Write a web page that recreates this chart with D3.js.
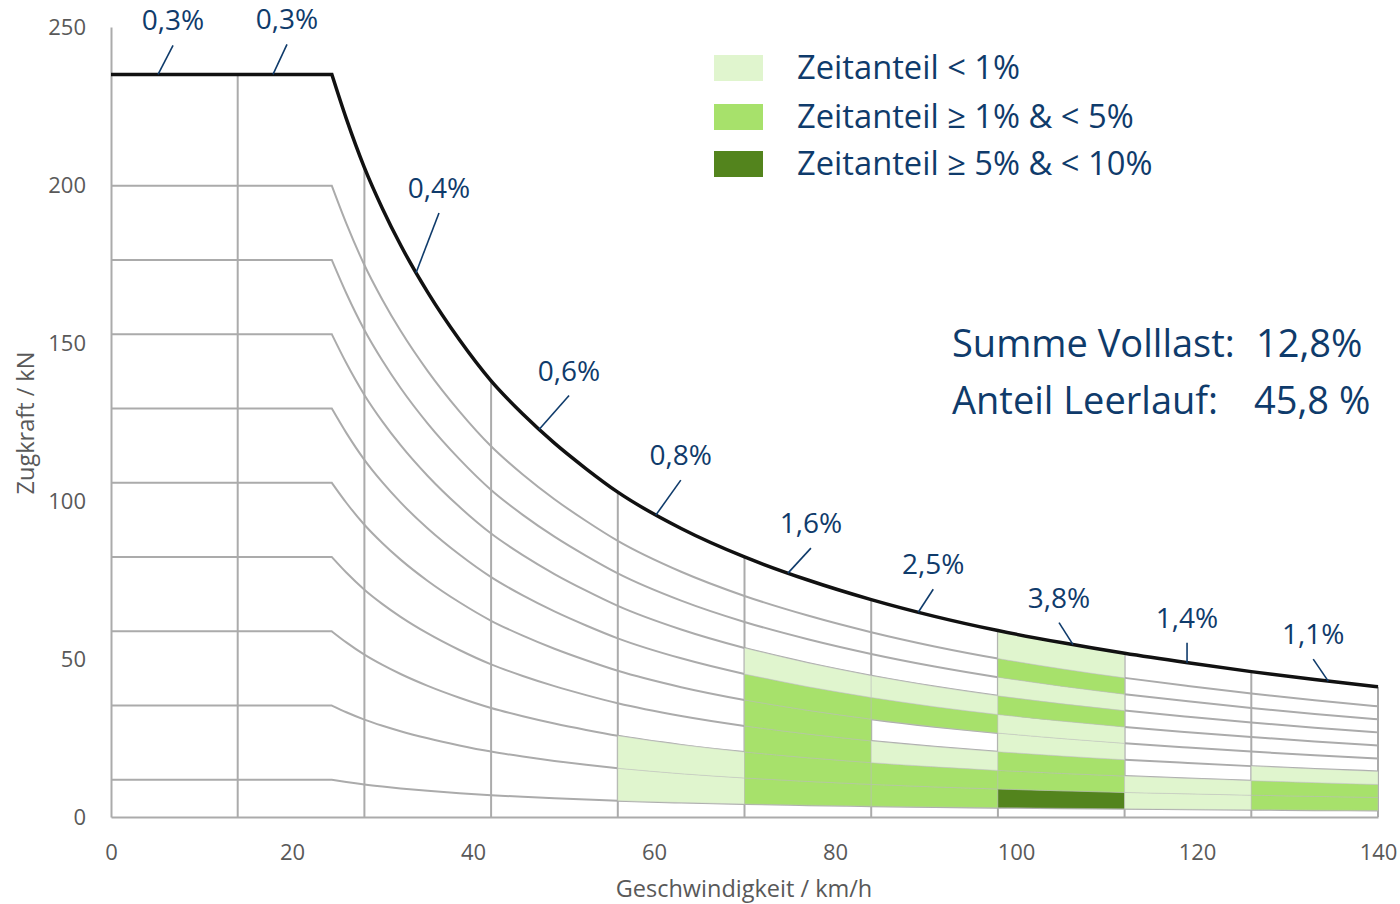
<!DOCTYPE html>
<html>
<head>
<meta charset="utf-8">
<script src="https://cdn.jsdelivr.net/npm/d3@7"></script>
<style>
  body { margin: 0; background: #fff; }
  text { font-family: "Open Sans", sans-serif; }
</style>
</head>
<body>
<svg id="chart" width="1400" height="904"></svg>
<script>
// speed bins (km/h) and load bands (fraction of the traction envelope)
const speedBins = [0, 14, 28, 42, 56, 70, 84, 98, 112, 126, 140];
const bandEdges = [0, 0.05, 0.15, 0.25, 0.35, 0.45, 0.55, 0.65, 0.75, 0.85, 1.0];

// traction envelope (km/h, kN)
const envelopeSpeed = [0, 14, 24.4, 26, 28, 30, 32, 35, 38.5, 42, 45.5, 49, 52.5, 56, 63, 70, 77, 84, 91, 98, 105, 112, 119, 126, 133, 140];
const envelopeForce = [235, 235, 235, 221, 205.5, 192.5, 181, 166, 151, 138, 127.5, 118.3, 110.2, 102.8, 91.3, 82.3, 75, 68.8, 63.5, 59, 55.2, 51.8, 48.8, 46, 43.5, 41.2];

// time share class per speed bin (rows) and load band (columns, bottom to top)
// 0 = none, 1 = < 1%, 2 = 1..5%, 3 = 5..10%
const cellClass = [
  [0, 0, 0, 0, 0, 0, 0, 0, 0, 0],
  [0, 0, 0, 0, 0, 0, 0, 0, 0, 0],
  [0, 0, 0, 0, 0, 0, 0, 0, 0, 0],
  [0, 0, 0, 0, 0, 0, 0, 0, 0, 0],
  [0, 1, 1, 0, 0, 0, 0, 0, 0, 0],
  [0, 2, 2, 2, 2, 2, 1, 0, 0, 0],
  [0, 2, 2, 1, 0, 2, 1, 0, 0, 0],
  [0, 3, 2, 2, 1, 1, 2, 1, 2, 1],
  [0, 1, 1, 0, 0, 0, 0, 0, 0, 0],
  [0, 2, 2, 1, 0, 0, 0, 0, 0, 0],
];

// full load share per speed bin, and the speed where its leader meets the curve
const fullLoadShares = ['0,3%', '0,3%', '0,4%', '0,6%', '0,8%', '1,6%', '2,5%', '3,8%', '1,4%', '1,1%'];
const labelSpeeds = [5.2, 17.9, 33.7, 47.3, 60.2, 74.8, 89.2, 106.3, 118.9, 134.5];
const leaderOffsets = [[15, -29], [14, -30], [23, -60], [30, -34], [25, -35], [23, -25], [15, -23], [-14, -22], [0, -20], [-15, -22]];

const legendLabels = ['Zeitanteil < 1%', 'Zeitanteil \u2265 1% & < 5%', 'Zeitanteil \u2265 5% & < 10%'];
const classColors = ['none', '#e0f5ce', '#a7e16b', '#53841d'];

const summaryLabels = ['Summe Volllast:', 'Anteil Leerlauf:'];
const summaryValues = ['12,8%', '45,8 %'];

const xTicks = [0, 20, 40, 60, 80, 100, 120, 140];
const yTicks = [0, 50, 100, 150, 200, 250];

const svg = d3.select('#chart');
const navy = '#0f3b6b';
const grey = '#ababab';

const x = d3.scaleLinear().domain([0, 140]).range([111, 1378]);
const y = d3.scaleLinear().domain([0, 250]).range([817, 27]);

const pts = envelopeSpeed.map((s, i) => ({ s, f: envelopeForce[i] }));
const maxForce = envelopeForce[0];
const cornerIdx = d3.max(pts.map((d, i) => (d.f === maxForce ? i : -1)));
const hyperPts = pts.slice(cornerIdx);

const curvePath = frac => {
  const line = d3.line()
    .x(d => x(d.s))
    .y(d => y(d.f * frac))
    .curve(d3.curveMonotoneX);
  return `M${x(0)},${y(maxForce * frac)}L${line(hyperPts).slice(1)}`;
};

const forceAt = s => pts.find(d => d.s === s).f;

// band lines
svg.append('g').selectAll('path')
  .data(bandEdges.slice(1, -1))
  .join('path')
    .attr('d', curvePath)
    .attr('fill', 'none')
    .attr('stroke', grey)
    .attr('stroke-width', 2);

// vertical bin lines
svg.append('g').selectAll('line')
  .data(speedBins.slice(1))
  .join('line')
    .attr('x1', d => x(d)).attr('x2', d => x(d))
    .attr('y1', y(0)).attr('y2', d => y(forceAt(d)))
    .attr('stroke', grey)
    .attr('stroke-width', 2);

// cells
const cells = [];
cellClass.forEach((row, i) => {
  row.forEach((c, j) => {
    if (c > 0) cells.push({ i, j, c });
  });
});

svg.append('g').selectAll('path')
  .data(cells)
  .join('path')
    .attr('d', d => {
      const lo = speedBins[d.i];
      const hi = speedBins[d.i + 1];
      const colPts = pts.filter(p => p.s >= lo && p.s <= hi);
      return d3.area()
        .x(p => x(p.s))
        .y0(p => y(p.f * bandEdges[d.j]))
        .y1(p => y(p.f * bandEdges[d.j + 1]))
        .curve(d3.curveMonotoneX)(colPts);
    })
    .attr('fill', d => classColors[d.c])
    .attr('stroke', 'rgba(190,190,190,0.55)')
    .attr('stroke-width', 0.8);

// axes
const yAxis = svg.append('g')
  .attr('transform', `translate(${x(0)},0)`)
  .call(d3.axisLeft(y).tickValues(yTicks).tickSize(0).tickPadding(25));
const xAxis = svg.append('g')
  .attr('transform', `translate(0,${y(0)})`)
  .call(d3.axisBottom(x).tickValues(xTicks).tickSize(0).tickPadding(27));

[xAxis, yAxis].forEach(g => {
  g.select('.domain').attr('stroke', grey).attr('stroke-width', 2);
  g.selectAll('text')
    .attr('font-family', '"Open Sans", sans-serif')
    .attr('font-size', 22)
    .attr('fill', '#595959');
});

svg.append('text')
  .attr('x', 744).attr('y', 897)
  .attr('text-anchor', 'middle')
  .attr('font-size', 23.5)
  .attr('fill', '#595959')
  .text('Geschwindigkeit / km/h');

svg.append('text')
  .attr('transform', 'translate(34,423) rotate(-90)')
  .attr('text-anchor', 'middle')
  .attr('font-size', 23.5)
  .attr('fill', '#595959')
  .text('Zugkraft / kN');

// envelope
const envelope = svg.append('path')
  .attr('d', curvePath(1))
  .attr('fill', 'none')
  .attr('stroke', '#111')
  .attr('stroke-width', 3.5)
  .attr('stroke-linejoin', 'miter');

// look up the envelope y at a given screen x
const node = envelope.node();
const total = node.getTotalLength();
const samples = d3.range(0, total, 0.5).map(l => node.getPointAtLength(l));
const yOnCurve = px => samples.reduce((a, b) => (Math.abs(b.x - px) < Math.abs(a.x - px) ? b : a)).y;

// full load labels
const labels = svg.append('g').selectAll('g')
  .data(fullLoadShares.map((t, i) => {
    const ax = x(labelSpeeds[i]);
    const ay = yOnCurve(ax);
    return { t, ax, ay, tx: ax + leaderOffsets[i][0], ty: ay + leaderOffsets[i][1] };
  }))
  .join('g');

labels.append('line')
  .attr('x1', d => d.ax).attr('y1', d => d.ay)
  .attr('x2', d => d.tx).attr('y2', d => d.ty)
  .attr('stroke', navy)
  .attr('stroke-width', 1.6);

labels.append('text')
  .attr('x', d => d.tx)
  .attr('y', d => d.ty - 15)
  .attr('text-anchor', 'middle')
  .attr('font-size', 28)
  .attr('fill', navy)
  .text(d => d.t);

// legend
const legend = svg.append('g').selectAll('g')
  .data(legendLabels)
  .join('g')
    .attr('transform', (d, i) => `translate(714,${[55, 104, 151][i]})`);

legend.append('rect')
  .attr('width', 49).attr('height', 26)
  .attr('fill', (d, i) => classColors[i + 1]);

legend.append('text')
  .attr('x', 83).attr('y', 24)
  .attr('font-size', 32.7)
  .attr('fill', navy)
  .text(d => d);

// summary
const summary = svg.append('g').selectAll('g')
  .data(summaryLabels)
  .join('g')
    .attr('transform', (d, i) => `translate(952,${[357, 414][i]})`);

summary.append('text')
  .attr('font-size', 38)
  .attr('fill', navy)
  .text(d => d);

summary.append('text')
  .attr('x', (d, i) => [304, 302][i])
  .attr('font-size', 38)
  .attr('fill', navy)
  .text((d, i) => summaryValues[i]);
</script>
</body>
</html>
